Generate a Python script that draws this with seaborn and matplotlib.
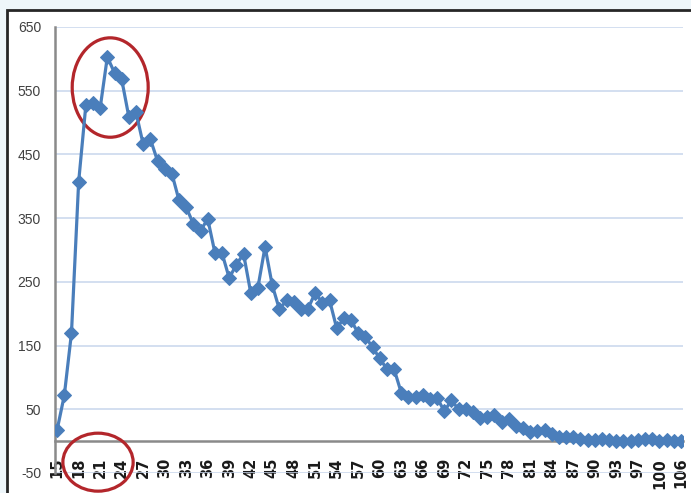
import numpy as np
import pandas as pd
import matplotlib
matplotlib.use('Agg')
import matplotlib.pyplot as plt
import seaborn as sns
from matplotlib.patches import Ellipse, Rectangle

# ages on the category axis (a few very old ages are missing)
ages = list(range(15, 96)) + [97, 98, 99, 100, 101, 102, 106]

counts = [18, 72, 170, 407, 527, 530, 523, 603, 578, 568,
          509, 516, 466, 474, 440, 427, 420, 378, 367, 341,
          330, 349, 296, 295, 256, 277, 294, 233, 241, 305,
          245, 207, 221, 218, 208, 208, 233, 217, 221, 177,
          193, 190, 169, 164, 147, 130, 113, 113, 76, 69,
          70, 72, 66, 68, 47, 64, 50, 51, 45, 37,
          38, 41, 30, 34, 24, 20, 15, 16, 18, 11,
          6, 6, 6, 4, 2, 2, 3, 2, 1, 1,
          1, 2, 4, 3, 1, 2, 1, 1]

yticks = list(range(-50, 651, 100))

line_color = '#4a7ebb'
grid_color = '#c8d6ec'
axis_color = '#8a8a8a'
ring_color = '#b3262b'

sns.set_style('white')
plt.rcParams['font.family'] = ['Liberation Sans', 'DejaVu Sans']

df = pd.DataFrame({'pos': np.arange(len(ages)), 'age': ages, 'count': counts})

fig = plt.figure(figsize=(6.91, 4.93), dpi=100)
fig.patch.set_facecolor('#eef6fa')
fig.patches.append(Rectangle((7 / 691, -0.1), 1.2, 1.1 - 10 / 493,
                             transform=fig.transFigure, fc='white',
                             ec='#262626', lw=2, zorder=-10))

ax = fig.add_axes([55 / 691, 1 - 473 / 493, (683 - 55) / 691, (473 - 27) / 493])
ax.set_facecolor('none')

sns.lineplot(data=df, x='pos', y='count', ax=ax, color=line_color,
             linewidth=2.3, marker='D', markersize=7.5,
             markeredgecolor=line_color, markerfacecolor=line_color, zorder=4)

# x axis crosses at 0 (set before the tick labels, it resets the ticks)
for s in ['top', 'right']:
    ax.spines[s].set_visible(False)
ax.spines['bottom'].set_position(('data', 0))
for s in ['left', 'bottom']:
    ax.spines[s].set_color(axis_color)
    ax.spines[s].set_linewidth(1.8)

ax.set_xlim(-0.3, len(ages) - 1 + 0.3)
ax.set_ylim(-50, 650)

ax.set_yticks(yticks)
ax.set_yticklabels([str(v) for v in yticks])
ax.yaxis.grid(True, color=grid_color, lw=1.1)
ax.xaxis.grid(False)
ax.set_axisbelow(True)

ax.tick_params(axis='x', direction='out', length=5, width=1, color=axis_color, pad=7)
ax.tick_params(axis='y', direction='out', length=4, width=1, color=axis_color,
               labelsize=10, labelcolor='#404040', pad=6)

ax.set_xticks(df['pos'])
ax.set_xticklabels([str(a) if i % 3 == 0 else '' for i, a in enumerate(ages)],
                   rotation=90, fontweight='bold', fontsize=10.5,
                   family=['DejaVu Sans'], color='#1a1a1a')
ax.set_xlabel('')
ax.set_ylabel('')

ax.add_patch(Ellipse((7.4, 555), width=10.6, height=156, fill=False,
                     ec=ring_color, lw=2.3, clip_on=False, zorder=3))
ax.add_patch(Ellipse((5.7, -33), width=9.8, height=91, fill=False,
                     ec=ring_color, lw=2.3, clip_on=False, zorder=6))

plt.savefig('out.png', dpi=100, facecolor=fig.get_facecolor())
